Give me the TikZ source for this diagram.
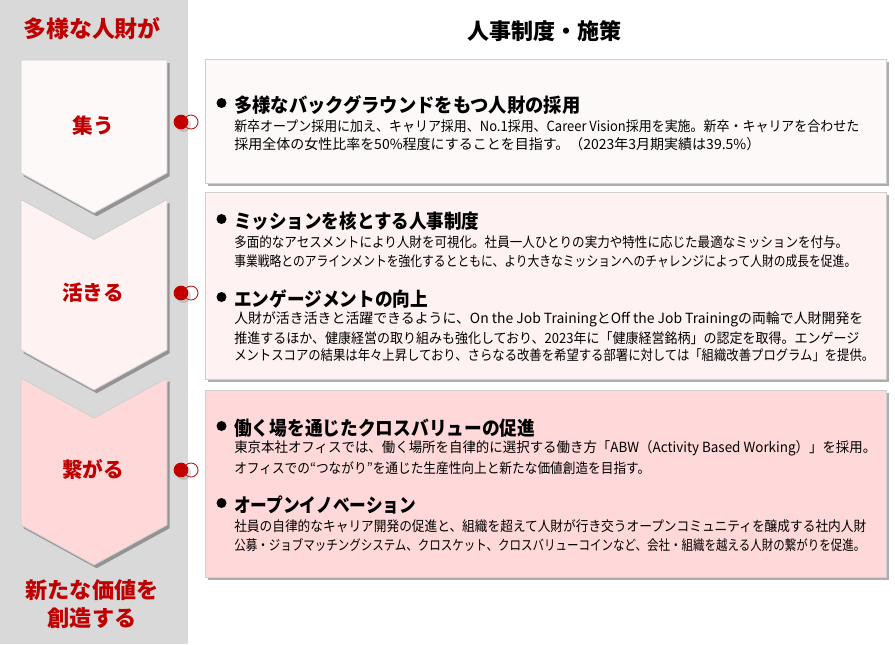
\documentclass[tikz,border=0pt]{standalone}
\usepackage{fontspec}
\usepackage{graphicx}
\setmainfont{Noto Sans CJK JP}
\usetikzlibrary{shadows}
\definecolor{hred}{HTML}{C00000}
\definecolor{side}{HTML}{D9D9D9}
\definecolor{edge}{HTML}{D0CECE}
\definecolor{tintA}{HTML}{FDF9F9}
\definecolor{tintB}{HTML}{FFF2F2}
\definecolor{tintC}{HTML}{FFD9D9}
\newdimen\pxu \pxu=.75pt
\newcommand{\fitline}[2]{\resizebox{#1\pxu}{\height}{#2}}
\tikzset{
  softshadow/.style={drop shadow={shadow xshift=2pt,shadow yshift=-2.4pt,fill=black,opacity=.32}},
  panel/.style={draw=edge,line width=.6pt,softshadow},
  steptitle/.style={text=hred,font=\fontsize{15.5}{18}\selectfont\bfseries,inner sep=0pt,align=center},
  headline/.style={anchor=west,inner sep=0pt,font=\fontsize{14.5}{16}\selectfont\bfseries},
  bodyline/.style={anchor=west,inner sep=0pt,font=\fontsize{10.5}{12}\selectfont},
  bulletdot/.style={circle,fill=black,inner sep=0pt,minimum size=7.5pt},
  dotsolid/.style={circle,fill=hred,inner sep=0pt,minimum size=11pt},
  dotopen/.style={circle,draw=hred,fill=white,line width=.6pt,inner sep=0pt,minimum size=10.5pt}
}
\begin{document}
\begin{tikzpicture}[x=.75pt,y=-.75pt]
  \useasboundingbox (0,0) rectangle (895,644);
  \fill[side] (0,0) rectangle (188,644);
  % chevrons
  \path[panel,fill=tintC] (21,378) -- (94,418) -- (167,378) -- (167,525) -- (94,565) -- (21,525) -- cycle;
  \path[panel,fill=tintB] (21,199.5) -- (94,239.5) -- (167,199.5) -- (167,350) -- (94,390) -- (21,350) -- cycle;
  \path[panel,fill=tintA] (21,60) -- (167,60) -- (167,173) -- (94,213) -- (21,173) -- cycle;
  % panels
  \path[panel,fill=tintA] (205.5,59) rectangle (886.5,183);
  \path[panel,fill=tintB] (205.5,192) rectangle (886.5,379);
  \path[panel,fill=tintC] (205.5,390) rectangle (886.5,577);
  % titles
  \node[steptitle,font=\fontsize{17.2}{20}\selectfont\bfseries] (top) at (92,29) {多様な人財が};
  \node[inner sep=0pt,font=\fontsize{16.5}{20}\selectfont\bfseries] (head) at (544,31) {人事制度・施策};
  \node[steptitle] (s1) at (93,126) {集う};
  \node[steptitle] (s2) at (93,293) {活きる};
  \node[steptitle] (s3) at (93,469) {繋がる};
  \node[steptitle,font=\fontsize{16.6}{21}\selectfont\bfseries] (end) at (92,604) {新たな価値を\\創造する};
  % dots
  \foreach \n/\y in {1/122,2/293,3/470} {
    \node[dotopen] (o\n) at (191,\y) {};
    \node[dotsolid,drop shadow={shadow xshift=2pt,shadow yshift=-2pt,opacity=.3}] (d\n) at (181,\y) {};
  }
  % headings
  \foreach \n/\y/\w/\t in {
    1/105/346/{多様なバックグラウンドをもつ人財の採用},
    2/221/245/{ミッションを核とする人事制度},
    3/299/194/{エンゲージメントの向上},
    4/428/301/{働く場を通じたクロスバリューの促進},
    5/505/182/{オープンイノベーション}} {
    \node[bulletdot] (b\n) at (221.5,\y-2) {};
    \node[headline] (h\n) at (234,\y) {\fitline{\w}{\t}};
  }
  % body text
  \foreach \n/\y/\w/\t in {
    1/126/625/{新卒オープン採用に加え、キャリア採用、No.1採用、Career Vision採用を実施。新卒・キャリアを合わせた},
    2/144/526/{採用全体の女性比率を50\%程度にすることを目指す。（2023年3月期実績は39.5\%）},
    3/242/614/{多面的なアセスメントにより人財を可視化。社員一人ひとりの実力や特性に応じた最適なミッションを付与。},
    4/261/622/{事業戦略とのアラインメントを強化するとともに、より大きなミッションへのチャレンジによって人財の成長を促進。},
    5/319/629/{人財が活き活きと活躍できるように、On the Job TrainingとOff the Job Trainingの両輪で人財開発を},
    6/338/625/{推進するほか、健康経営の取り組みも強化しており、2023年に「健康経営銘柄」の認定を取得。エンゲージ},
    7/355/640/{メントスコアの結果は年々上昇しており、さらなる改善を希望する部署に対しては「組織改善プログラム」を提供。},
    8/448/642/{東京本社オフィスでは、働く場所を自律的に選択する働き方「ABW（Activity Based Working）」を採用。},
    9/468/416/{オフィスでの“つながり”を通じた生産性向上と新たな価値創造を目指す。},
    10/526/632/{社員の自律的なキャリア開発の促進と、組織を超えて人財が行き交うオープンコミュニティを醸成する社内人財},
    11/545/631/{公募・ジョブマッチングシステム、クロスケット、クロスバリューコインなど、会社・組織を越える人財の繋がりを促進。}} {
    \node[bodyline] (l\n) at (234,\y) {\fitline{\w}{\t}};
  }
\end{tikzpicture}
\end{document}
